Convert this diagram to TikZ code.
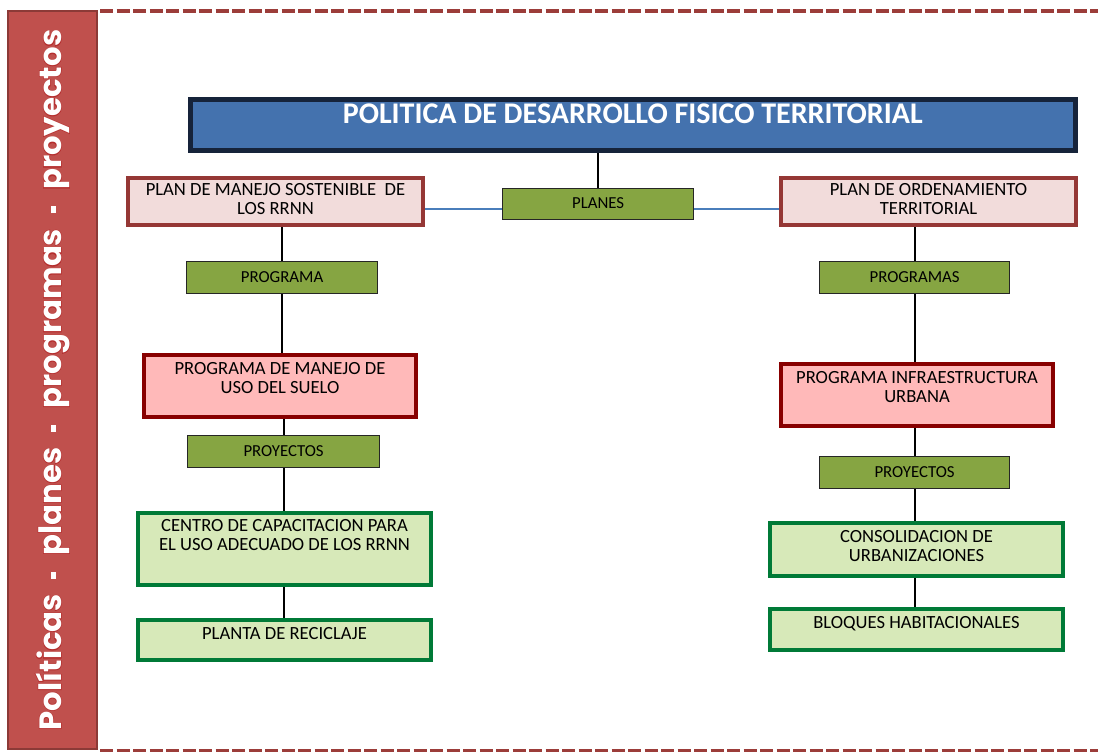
\documentclass[tikz,border=0pt]{standalone}
\usepackage{fontspec}
\setmainfont{Carlito}
\newfontfamily\barfont{Poppins}
\newfontfamily\brillofont[FakeBold=4]{Poppins}
\usepackage{tikz}
\usetikzlibrary{positioning}
\definecolor{barfondo}{HTML}{C0504D}
\definecolor{barborde}{HTML}{8C3A37}
\definecolor{brillo}{HTML}{B42A2A}
\definecolor{rayas}{HTML}{9C3D3A}
\definecolor{titfondo}{HTML}{4472AE}
\definecolor{titborde}{HTML}{16233A}
\definecolor{planfondo}{HTML}{F2DCDB}
\definecolor{planborde}{HTML}{953735}
\definecolor{progfondo}{HTML}{FFB9B9}
\definecolor{progborde}{HTML}{880000}
\definecolor{proyfondo}{HTML}{D7E9B9}
\definecolor{proyborde}{HTML}{007A37}
\definecolor{verde}{HTML}{86A542}
\definecolor{azulc}{HTML}{4A7EBB}
% text at the top of a box: width, height, first baseline, text
\newcommand{\arriba}[4]{\parbox[c][#2][t]{#1}{\centering\rule{0pt}{#3}#4\par}}
\newcommand{\guion}{\hspace{7.7pt}\rule[2.6pt]{3.6pt}{2.6pt}\hspace{8.2pt}}
\newcommand{\lema}{Políticas\guion planes\guion programas\guion proyectos}
\tikzset{
  font={\fontsize{9.3pt}{9.6pt}\selectfont},
  barra/.style={draw=barborde, fill=barfondo, line width=0.75pt, text=white,
    font={\barfont\bfseries\fontsize{15.4pt}{18pt}\selectfont}},
  titbox/.style={draw=titborde, fill=titfondo, line width=2.25pt, inner sep=0pt, anchor=north west,
    text=white, font={\bfseries\fontsize{15pt}{17pt}\selectfont}},
  planbox/.style={draw=planborde, fill=planfondo, line width=2pt, inner sep=0pt, anchor=north west},
  progbox/.style={draw=progborde, fill=progfondo, line width=2pt, inner sep=0pt, anchor=north west},
  proybox/.style={draw=proyborde, fill=proyfondo, line width=2pt, inner sep=0pt, anchor=north west},
  etiqueta/.style={draw=black!85, fill=verde, line width=0.6pt, inner sep=0pt, anchor=north west,
    minimum width=95.5pt, minimum height=16pt, text depth=0.6pt,
    font={\fontsize{8.4pt}{9pt}\selectfont}},
  linea/.style={line width=1pt, black},
  azul/.style={line width=1pt, azulc}
}

\begin{document}
\begin{tikzpicture}[x=0.5pt, y=-0.5pt]
  \useasboundingbox (0,0) rectangle (1098,752);
  % dashed frame
  \draw[rayas, line width=2pt, dash pattern=on 6.5pt off 1.75pt] (100,11) -- (1100,11);
  \draw[rayas, line width=1.5pt, dash pattern=on 6.5pt off 1.75pt] (100,750.5) -- (1100,750.5);
  \node (barra) [barra, rotate=90, minimum width=369pt, minimum height=44.5pt] at (52.5,380) {};
  \node (brillo) [rotate=90, text=brillo, opacity=0.8, font={\brillofont\bfseries\fontsize{15.4pt}{18pt}\selectfont}]
    at ([xshift=0pt]barra.center) {\lema};
  \node (texto) [rotate=90, text=white, font={\barfont\bfseries\fontsize{15.4pt}{18pt}\selectfont}]
    at (barra.center) {\lema};

  \node (titulo) [titbox] at (188,97) {\arriba{442.5pt}{25.5pt}{12.1pt}{POLITICA DE DESARROLLO FISICO TERRITORIAL}};
  \node (planes) [etiqueta, minimum height=15.5pt] at (502,188) {PLANES};

  % left column
  \node (plml) [planbox] at (126,176) {\arriba{147.5pt}{23.5pt}{8.5pt}{PLAN DE MANEJO SOSTENIBLE \ DE\\LOS RRNN}};
  \node (prgl) [etiqueta] at (186,261) {PROGRAMA};
  \node (pmus) [progbox] at (142,353) {\arriba{136pt}{31pt}{9.5pt}{PROGRAMA DE MANEJO DE\\USO DEL SUELO}};
  \node (pyl) [etiqueta, minimum width=96pt] at (187,435) {PROYECTOS};
  \node (ccap) [proybox] at (136,511) {\arriba{146.5pt}{36pt}{9pt}{CENTRO DE CAPACITACION PARA\\EL USO ADECUADO DE LOS RRNN}};
  \node (prec) [proybox] at (136,618) {\arriba{146.5pt}{20pt}{9.5pt}{PLANTA DE RECICLAJE}};

  % right column
  \node (plot) [planbox] at (779,176) {\arriba{147.5pt}{23.5pt}{8.5pt}{PLAN DE ORDENAMIENTO\\TERRITORIAL}};
  \node (prgr) [etiqueta, minimum width=95pt] at (819,261) {PROGRAMAS};
  \node (pinf) [progbox] at (779,362) {\arriba{136pt}{31pt}{9.5pt}{PROGRAMA INFRAESTRUCTURA\\URBANA}};
  \node (pyr) [etiqueta, minimum width=95pt] at (819,456) {PROYECTOS};
  \node (curb) [proybox] at (768,521) {\arriba{146.5pt}{26.5pt}{9.5pt}{CONSOLIDACION DE\\URBANIZACIONES}};
  \node (bhab) [proybox] at (768,607) {\arriba{146.5pt}{20.5pt}{9.5pt}{BLOQUES HABITACIONALES}};

  \draw[linea] (planes.north) -- (planes.north |- titulo.south);
  \draw[azul] ([yshift=-2.25pt]planes.west) -- ([yshift=-2.25pt]planes.west -| plml.east);
  \draw[azul] ([yshift=-2.25pt]planes.east) -- ([yshift=-2.25pt]planes.east -| plot.west);

  \draw[linea] (plml.south -| prgl.north) -- (prgl.north);
  \draw[linea] (prgl.south) -- (prgl.south |- pmus.north);
  \draw[linea] (pmus.south -| pyl.north) -- (pyl.north);
  \draw[linea] (pyl.south) -- (pyl.south |- ccap.north);
  \draw[linea] (ccap.south -| pyl.south) -- (prec.north -| pyl.south);

  \draw[linea] (plot.south -| prgr.north) -- (prgr.north);
  \draw[linea] (prgr.south) -- (prgr.south |- pinf.north);
  \draw[linea] (pinf.south -| pyr.north) -- (pyr.north);
  \draw[linea] (pyr.south) -- (pyr.south |- curb.north);
  \draw[linea] (curb.south -| pyr.south) -- (bhab.north -| pyr.south);
\end{tikzpicture}
\end{document}
